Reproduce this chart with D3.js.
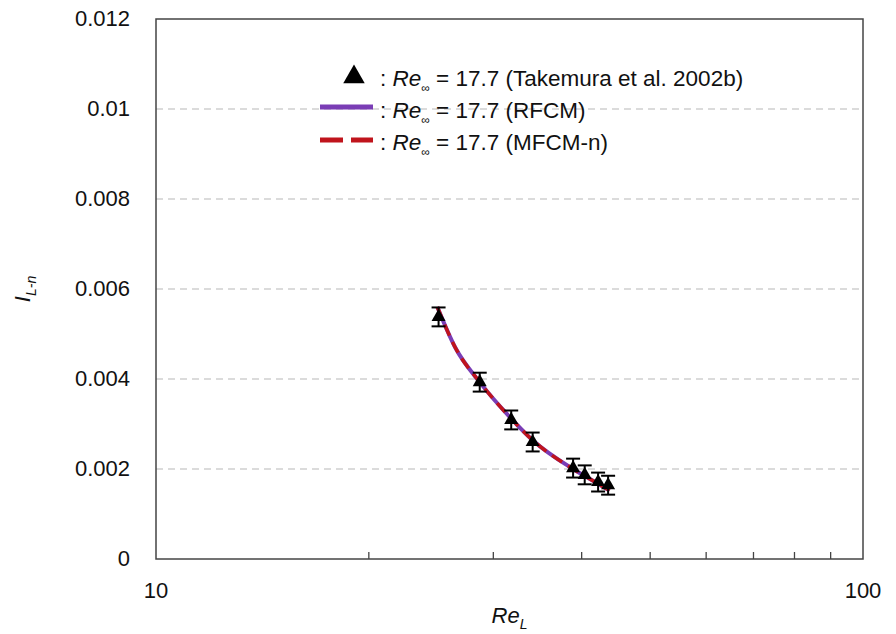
<!DOCTYPE html>
<html>
<head>
<meta charset="utf-8">
<script src="https://cdn.jsdelivr.net/npm/d3@7"></script>
<style>
  body { margin: 0; background: #fff; }
  text { font-family: "Liberation Sans", Arial, sans-serif; fill: #111; }
</style>
</head>
<body>
<div id="chart"></div>
<script>
// Measured points (Takemura et al. 2002b)
const reData = [25.1, 28.7, 31.8, 34.1, 38.9, 40.4, 42.2, 43.6];
const iData = [0.00538, 0.00393, 0.00309, 0.00260, 0.00202, 0.00187, 0.00171, 0.00164];
const iErr = [0.00021, 0.00021, 0.00021, 0.00021, 0.00021, 0.00021, 0.00021, 0.00021];

// Model curves (RFCM and MFCM-n overlap)
const reCurve = [25.0, 26.5, 28.7, 31.8, 34.1, 38.9, 41.5, 43.8];
const rfcm = [0.00560, 0.00470, 0.00393, 0.00312, 0.00264, 0.00200, 0.00174, 0.00152];
const mfcm = [0.00560, 0.00470, 0.00393, 0.00312, 0.00264, 0.00200, 0.00174, 0.00152];

const yTicks = [0, 0.002, 0.004, 0.006, 0.008, 0.01, 0.012];
const yTickLabels = ["0", "0.002", "0.004", "0.006", "0.008", "0.01", "0.012"];
const xMinor = [20, 30, 40, 50, 60, 70, 80, 90];
const xLabels = [10, 100];

const legendRows = ["17.7 (Takemura et al. 2002b)", "17.7 (RFCM)", "17.7 (MFCM-n)"];

const margin = { top: 19, right: 33, bottom: 75, left: 156 },
      W = 896, H = 634,
      width = W - margin.left - margin.right,
      height = H - margin.top - margin.bottom;

const svg = d3.select("#chart")
    .append("svg")
        .attr("width", W)
        .attr("height", H);

const g = svg.append("g")
    .attr("transform", `translate(${margin.left},${margin.top})`);

const x = d3.scaleLog().domain([10, 100]).range([0, width]);
const y = d3.scaleLinear().domain([0, 0.012]).range([height, 0]);

// Gridlines
g.selectAll(".grid")
    .data(yTicks.filter(d => d > 0 && d < 0.012))
    .join("line")
        .attr("x1", 0).attr("x2", width)
        .attr("y1", d => y(d)).attr("y2", d => y(d))
        .attr("stroke", "#cfcfcf")
        .attr("stroke-width", 1.3)
        .attr("stroke-dasharray", "7,5");

// Frame
g.append("rect")
    .attr("width", width).attr("height", height)
    .attr("fill", "none")
    .attr("stroke", "#444")
    .attr("stroke-width", 1.5);

// Minor x ticks (inward)
g.selectAll(".xminor")
    .data(xMinor)
    .join("line")
        .attr("x1", d => x(d)).attr("x2", d => x(d))
        .attr("y1", height).attr("y2", height - 7)
        .attr("stroke", "#444")
        .attr("stroke-width", 1.3);

// Y tick labels
g.selectAll(".ylab")
    .data(yTicks)
    .join("text")
        .attr("x", -26)
        .attr("y", d => y(d))
        .attr("dy", "0.3em")
        .attr("text-anchor", "end")
        .style("font-size", "22px")
        .text((d, i) => yTickLabels[i]);

// X tick labels
g.selectAll(".xlab")
    .data(xLabels)
    .join("text")
        .attr("x", d => x(d))
        .attr("y", height + 39)
        .attr("text-anchor", "middle")
        .style("font-size", "22px")
        .text(d => d);

// Axis titles
const xt = svg.append("text")
    .attr("x", margin.left + width / 2)
    .attr("y", 623)
    .attr("text-anchor", "middle")
    .style("font-size", "22px");
xt.append("tspan").style("font-style", "italic").text("Re");
xt.append("tspan").style("font-style", "italic").style("font-size", "14px").attr("dy", 6).text("L");

const yt = svg.append("text")
    .attr("transform", `translate(30,${margin.top + y(0.006)}) rotate(-90)`)
    .attr("text-anchor", "middle")
    .style("font-size", "22px");
yt.append("tspan").style("font-style", "italic").text("I");
yt.append("tspan").style("font-style", "italic").style("font-size", "14px").attr("dy", 6).text("L-n");

// Curves
const line = d3.line()
    .x(d => x(d[0]))
    .y(d => y(d[1]))
    .curve(d3.curveMonotoneX);

g.append("path")
    .datum(reCurve.map((r, i) => [r, rfcm[i]]))
    .attr("d", line)
    .attr("fill", "none")
    .attr("stroke", "#7a3db5")
    .attr("stroke-width", 4);

g.append("path")
    .datum(reCurve.map((r, i) => [r, mfcm[i]]))
    .attr("d", line)
    .attr("fill", "none")
    .attr("stroke", "#c0141c")
    .attr("stroke-width", 3.5)
    .attr("stroke-dasharray", "12,7");

// Error bars
const pts = reData.map((r, i) => ({ re: r, v: iData[i], e: iErr[i] }));
const eb = g.append("g").attr("stroke", "#000").attr("stroke-width", 2);
eb.selectAll(".ev")
    .data(pts)
    .join("line")
        .attr("x1", d => x(d.re)).attr("x2", d => x(d.re))
        .attr("y1", d => y(d.v + d.e)).attr("y2", d => y(d.v - d.e));
[1, -1].forEach(s => {
    eb.selectAll(".cap" + s)
        .data(pts)
        .join("line")
            .attr("x1", d => x(d.re) - 7).attr("x2", d => x(d.re) + 7)
            .attr("y1", d => y(d.v + s * d.e)).attr("y2", d => y(d.v + s * d.e));
});

// Triangles
const tri = d3.symbol().type(d3.symbolTriangle).size(85);
g.selectAll(".tri")
    .data(pts)
    .join("path")
        .attr("d", tri)
        .attr("transform", d => `translate(${x(d.re)},${y(d.v)})`)
        .attr("fill", "#000");

// Legend
const lg = svg.append("g");
const rowY = [78, 110, 142];
lg.append("path")
    .attr("d", d3.symbol().type(d3.symbolTriangle).size(200))
    .attr("transform", `translate(354,${rowY[0] - 1})`)
    .attr("fill", "#000");
lg.append("line")
    .attr("x1", 320).attr("x2", 373)
    .attr("y1", rowY[1] - 3).attr("y2", rowY[1] - 3)
    .attr("stroke", "#7a3db5").attr("stroke-width", 5);
lg.append("line")
    .attr("x1", 320).attr("x2", 373)
    .attr("y1", rowY[2] - 2).attr("y2", rowY[2] - 2)
    .attr("stroke", "#c0141c").attr("stroke-width", 5)
    .attr("stroke-dasharray", "23,8");

legendRows.forEach((t, i) => {
    const tx = lg.append("text")
        .attr("x", 380)
        .attr("y", rowY[i] + 8)
        .style("font-size", "22.5px");
    tx.append("tspan").text(": ");
    tx.append("tspan").style("font-style", "italic").text("Re");
    tx.append("tspan").style("font-size", "12px").attr("dy", 6).text("∞");
    tx.append("tspan").attr("dy", -6).text(" = " + t);
});
</script>
</body>
</html>
